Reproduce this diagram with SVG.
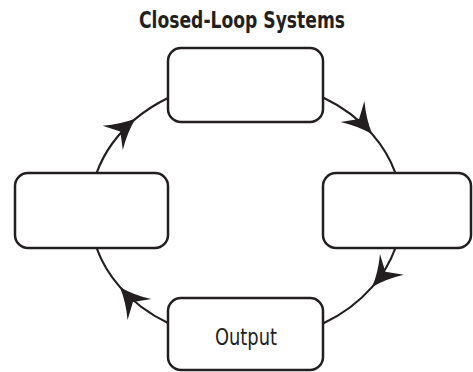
<svg xmlns="http://www.w3.org/2000/svg" width="473" height="372" viewBox="0 0 473 372">
<defs>
<style>
.box{fill:#fff;stroke:#231f20;stroke-width:2.5}
.conn{fill:none;stroke:#231f20;stroke-width:2.2;marker-mid:url(#ah)}
.t{font-family:"Liberation Sans Narrow","DejaVu Sans Condensed","Liberation Sans",sans-serif;font-stretch:condensed;fill:#231f20;text-anchor:middle}
</style>
<marker id="ah" markerUnits="userSpaceOnUse" markerWidth="40" markerHeight="40" viewBox="-20 -12 22 24" refX="0" refY="0" orient="auto">
<path d="M0,0 Q-9,-3 -18,-9.5 L-12,0 L-18,9.5 Q-9,3 0,0Z" fill="#231f20"/>
</marker>
</defs>
<rect width="473" height="372" fill="#fff"/>
<text class="t" x="242" y="28" font-size="23" font-weight="bold" textLength="206" lengthAdjust="spacingAndGlyphs">Closed-Loop Systems</text>
<g id="connectors">
<path class="conn" d="M96.6,173 A156,130 0 0 1 135.7,118.6 A156,130 0 0 1 168,97.9"/>
<path class="conn" d="M323,97.4 A156,130 0 0 1 372.2,134.1 A156,130 0 0 1 395.4,173"/>
<path class="conn" d="M395.4,248 A156,130 0 0 1 372.2,286.9 A156,130 0 0 1 323,323.6"/>
<path class="conn" d="M168,323.1 A156,130 0 0 1 119.8,286.9 A156,130 0 0 1 96.6,248"/>
</g>
<g id="node-top"><rect class="box" x="168" y="48" width="155" height="74" rx="13"/></g>
<g id="node-left"><rect class="box" x="15" y="173" width="153" height="75" rx="13"/></g>
<g id="node-right"><rect class="box" x="323" y="173" width="148" height="75" rx="13"/></g>
<g id="node-output"><rect class="box" x="168" y="298" width="155" height="72" rx="13"/>
<text class="t" x="246" y="345" font-size="23.5" textLength="62" lengthAdjust="spacingAndGlyphs">Output</text></g>
</svg>
